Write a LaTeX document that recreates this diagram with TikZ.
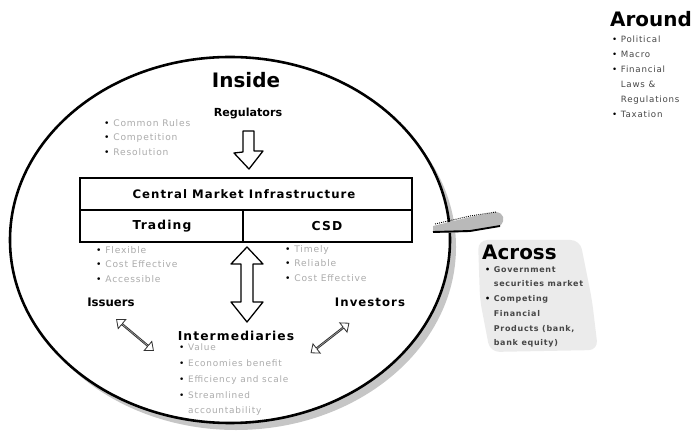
\documentclass[tikz,border=0pt]{standalone}
\usepackage{fontspec}
\setmainfont{DejaVu Sans}
\newfontfamily\widefont[LetterSpace=9]{DejaVu Sans}
\usetikzlibrary{shapes.arrows}
\begin{document}
\begin{tikzpicture}[x=0.03cm,y=-0.03cm,
  head/.style={font=\bfseries\fontsize{9.5}{11}\selectfont, inner sep=0},
  big/.style={font=\bfseries\fontsize{17}{20}\selectfont, inner sep=0},
  blist/.style={font=\widefont\fontsize{7.8}{12.4}\selectfont, text=gray!65, align=left, anchor=north west, inner sep=0},
  hollow/.style={draw=black, line width=1.1pt, fill=white, line join=round},
  thinarrow/.style={double arrow, draw=black!80, line width=0.7pt, fill=white, minimum width=10pt, minimum height=41pt, double arrow head extend=2.5pt, inner sep=0, double arrow tip angle=80},
]
\useasboundingbox (0,0) rectangle (693,431);
% ellipse with shadow
\fill[gray!45] (236,247) ellipse [x radius=6.6cm, y radius=5.49cm];
\draw[line width=2.2pt, fill=white] (230,240) ellipse [x radius=6.6cm, y radius=5.49cm];

% across arrow
\fill[gray!55] (433,226) -- (470,217) -- (496,212) .. controls (504,213) and (506,220) .. (500,226) -- (470,232) -- (433,233) -- cycle;
\draw[black, densely dotted, line width=0.8pt] (435,224) -- (470,216) -- (496,212);
\draw[line width=1.6pt] (433,232) -- (470,231) -- (500,226);

% soft shadow behind the "Across" block
\fill[gray!16, rounded corners=8pt] (478,240) -- (580,240) -- (592,300) -- (598,350) -- (490,352) -- (480,300) -- cycle;

% headings inside
\node[big] (inside) at (246,80) {Inside};
\node[head] (regulators) at (248,113) {Regulators};
\draw[hollow] (243,131) -- (254,131) -- (254,151) -- (263,151) -- (249,169) -- (234,153) -- (243,152) -- cycle;

\node[blist] (reglist) at (104,119) {\textcolor{black}{•}\ Common Rules\\\textcolor{black}{•}\ Competition\\\textcolor{black}{•}\ Resolution};

% central box
\draw[line width=1.6pt] (80,178) rectangle (412,242);
\draw[line width=1.6pt] (80,210) -- (412,210);
\draw[line width=1.6pt] (243,210) -- (243,242);
\node[head, font=\widefont\bfseries\fontsize{10}{12}\selectfont] (cmi) at (244,194) {Central Market Infrastructure};
\node[head, font=\widefont\bfseries\fontsize{10.5}{12}\selectfont] (trading) at (162,226) {Trading};
\node[head, font=\widefont\bfseries\fontsize{10.5}{12}\selectfont] (csd) at (327,226) {CSD};

\node[blist] (tradlist) at (96,246) {\textcolor{black}{•}\ Flexible\\\textcolor{black}{•}\ Cost Effective\\\textcolor{black}{•}\ Accessible};
\node[blist] (csdlist) at (285,245) {\textcolor{black}{•}\ Timely\\\textcolor{black}{•}\ Reliable\\\textcolor{black}{•}\ Cost Effective};

% vertical double arrow
\draw[hollow] (247,247) -- (263,264) -- (253,264) -- (253,302) -- (263,302) -- (247,322) -- (231,302) -- (241,302) -- (241,264) -- (231,264) -- cycle;

\node[head, font=\bfseries\fontsize{10}{12}\selectfont] (issuers) at (111,302) {Issuers};
\node[head, font=\widefont\bfseries\fontsize{10}{12}\selectfont] (investors) at (370,302) {Investors};
\node[head, font=\widefont\bfseries\fontsize{10.5}{12}\selectfont] (interm) at (236,336) {Intermediaries};

\node[thinarrow, rotate=-40] (issarrow) at (135,335) {};
\node[thinarrow, rotate=38] (invarrow) at (330,338) {};

\node[blist, font=\widefont\fontsize{7.6}{13.4}\selectfont] (intlist) at (179,344) {\textcolor{black}{•}\ Value\\\textcolor{black}{•}\ Economies benefit\\\textcolor{black}{•}\ Efficiency and scale\\\textcolor{black}{•}\ Streamlined\\\phantom{•}\ accountability};

% across
\node[big, anchor=west] (across) at (482,252) {Across};
\node[blist, font=\widefont\bfseries\fontsize{6.8}{12.6}\selectfont, text=gray!55!black] (acrosslist) at (485,266) {\textcolor{black}{•}\ Government\\\phantom{•}\ securities market\\\textcolor{black}{•}\ Competing\\\phantom{•}\ Financial\\\phantom{•}\ Products (bank,\\\phantom{•}\ bank equity)};

% around
\node[big, anchor=west] (around) at (610,19) {Around};
\node[blist, font=\widefont\fontsize{7.4}{12.8}\selectfont, text=gray!55!black] (aroundlist) at (612,36) {\textcolor{black}{•}\ Political\\\textcolor{black}{•}\ Macro\\\textcolor{black}{•}\ Financial\\\phantom{•}\ Laws \&\\\phantom{•}\ Regulations\\\textcolor{black}{•}\ Taxation};
\end{tikzpicture}
\end{document}
